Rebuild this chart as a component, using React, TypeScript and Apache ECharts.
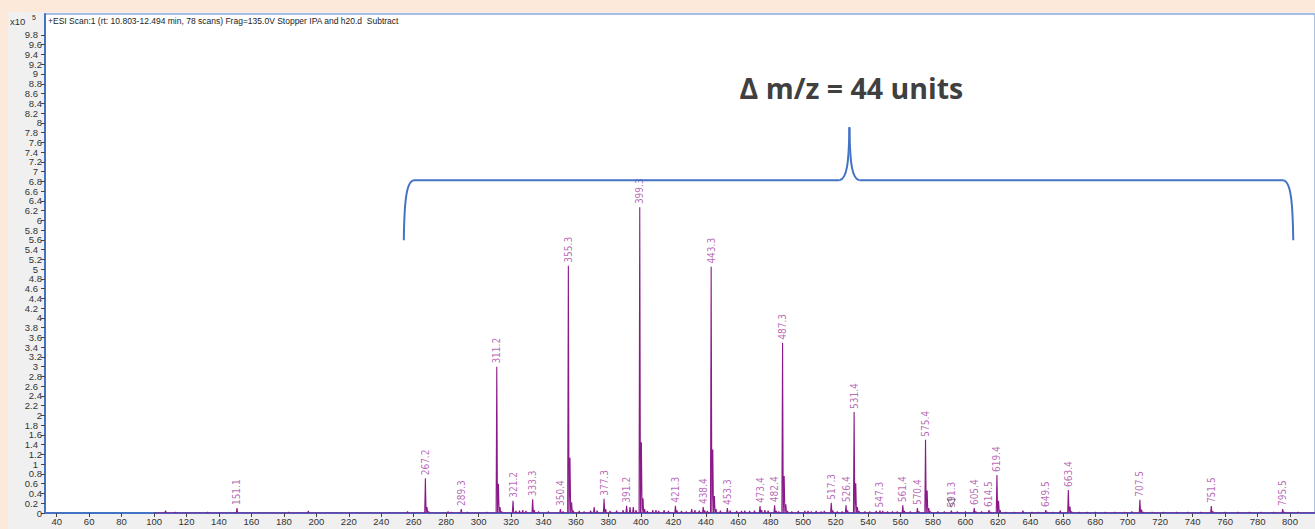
import React, { useEffect, useRef } from 'react';
import * as echarts from 'echarts';

// ---- axis ticks ----
const xTicks = [40, 60, 80, 100, 120, 140, 160, 180, 200, 220, 240, 260, 280, 300, 320, 340, 360, 380, 400, 420, 440, 460, 480, 500, 520, 540, 560, 580, 600, 620, 640, 660, 680, 700, 720, 740, 760, 780, 800];
const yTicks = [0, 0.2, 0.4, 0.6, 0.8, 1, 1.2, 1.4, 1.6, 1.8, 2, 2.2, 2.4, 2.6, 2.8, 3, 3.2, 3.4, 3.6, 3.8, 4, 4.2, 4.4, 4.6, 4.8, 5, 5.2, 5.4, 5.6, 5.8, 6, 6.2, 6.4, 6.6, 6.8, 7, 7.2, 7.4, 7.6, 7.8, 8, 8.2, 8.4, 8.6, 8.8, 9, 9.2, 9.4, 9.6, 9.8];

// ---- labeled peaks (m/z, counts x10^5) ----
const labeledMz = [151.1, 267.2, 289.3, 311.2, 321.2, 333.3, 350.4, 355.3, 377.3, 391.2, 399.3, 421.3, 438.4, 443.3, 453.3, 473.4, 482.4, 487.3, 517.3, 526.4, 531.4, 547.3, 561.4, 570.4, 575.4, 591.3, 605.4, 614.5, 619.4, 649.5, 663.4, 707.5, 751.5, 795.5];
const labeledIntensity = [0.1, 0.71, 0.08, 3.0, 0.25, 0.28, 0.08, 5.07, 0.29, 0.15, 6.27, 0.15, 0.12, 5.05, 0.1, 0.14, 0.16, 3.49, 0.21, 0.16, 2.07, 0.05, 0.16, 0.1, 1.5, 0.05, 0.1, 0.06, 0.78, 0.06, 0.47, 0.27, 0.14, 0.08];

// ---- unlabeled minor peaks / isotopes ----
const minorMz = [107.1, 113.1, 133, 183, 195.1, 256.2, 268.2, 269.2, 281.2, 283, 293, 305, 312.2, 313.2, 314.2, 323, 325.2, 327.2, 329.2, 334.3, 337, 343, 352, 356.3, 357.3, 358.3, 362, 365, 369, 371.2, 373, 378.3, 381, 385, 389, 393.3, 395.3, 397, 400.3, 401.3, 402.3, 404, 407.3, 409.3, 411, 414.3, 417, 422.3, 425, 428, 431.3, 433.3, 436, 439.4, 441, 444.3, 445.3, 446.3, 449, 455, 459, 462, 464, 467, 470, 474.4, 476.4, 478.4, 483.4, 485, 488.3, 489.3, 490.3, 493, 497, 501, 503, 505, 508, 511, 513, 518.3, 521, 524, 527.4, 532.4, 533.4, 534.4, 538, 541, 545, 549, 552, 555, 558, 562.4, 566, 571.4, 576.4, 577.4, 578.4, 583, 587, 595, 600, 606.4, 610, 615.5, 620.4, 621.4, 625, 630, 635.4, 641, 645, 650.5, 654, 658.4, 664.4, 665.4, 670, 675, 680, 686, 692, 698, 702.5, 708.5, 709.5, 715, 722, 730, 737, 745, 752.5, 760, 768, 775, 782, 790, 796.5, 805];
const minorIntensity = [0.05, 0.02, 0.02, 0.02, 0.04, 0.03, 0.12, 0.03, 0.03, 0.02, 0.02, 0.02, 0.6, 0.12, 0.03, 0.04, 0.05, 0.06, 0.04, 0.06, 0.03, 0.03, 0.03, 1.13, 0.22, 0.05, 0.04, 0.03, 0.05, 0.12, 0.05, 0.08, 0.04, 0.05, 0.06, 0.12, 0.12, 0.06, 1.45, 0.3, 0.08, 0.04, 0.06, 0.06, 0.04, 0.06, 0.04, 0.05, 0.04, 0.03, 0.08, 0.06, 0.05, 0.05, 0.04, 1.3, 0.35, 0.08, 0.05, 0.05, 0.04, 0.04, 0.05, 0.04, 0.05, 0.06, 0.06, 0.05, 0.04, 0.03, 0.76, 0.18, 0.04, 0.03, 0.04, 0.04, 0.04, 0.03, 0.04, 0.03, 0.04, 0.05, 0.03, 0.03, 0.05, 0.61, 0.12, 0.04, 0.03, 0.03, 0.04, 0.04, 0.03, 0.03, 0.03, 0.04, 0.03, 0.03, 0.46, 0.1, 0.03, 0.03, 0.03, 0.03, 0.03, 0.03, 0.03, 0.02, 0.25, 0.06, 0.02, 0.02, 0.05, 0.02, 0.02, 0.02, 0.02, 0.05, 0.13, 0.03, 0.02, 0.02, 0.02, 0.02, 0.02, 0.02, 0.03, 0.07, 0.02, 0.02, 0.02, 0.02, 0.02, 0.02, 0.03, 0.02, 0.02, 0.02, 0.02, 0.02, 0.02, 0.02];

// baseline extent of the acquired spectrum
const scanRange = [100, 815.4];
// marker (open triangle) near 591.3
const markerMz = [591.3];
const markerIntensity = [0.2];

const headerText = '+ESI Scan:1 (rt: 10.803-12.494 min, 78 scans) Frag=135.0V Stopper IPA and h20.d  Subtract';
const annotationText = 'Δ m/z = 44 units';
// brace annotation anchors in data coordinates
const braceMz = [253.9, 528.5, 802];
const braceLevels = [5.59, 6.82, 7.91];
const annotationLevel = 8.71;

const X_MIN = 32.8;
const X_MAX = 815.4;
const Y_MAX = 10.23;

const LINE_COLOR = '#8B1A89';
const LABEL_COLOR = '#A644A4';
const AXIS_BLUE = '#4472C4';

function buildProfile(): number[][] {
  const peaks: number[][] = [];
  labeledMz.forEach((m, i) => peaks.push([m, labeledIntensity[i]]));
  minorMz.forEach((m, i) => peaks.push([m, minorIntensity[i]]));
  peaks.sort((a, b) => a[0] - b[0]);
  const pts: number[][] = [[scanRange[0], 0]];
  const w = 0.42;
  peaks.forEach(([m, h]) => {
    pts.push([m - w, 0]);
    pts.push([m, h]);
    pts.push([m + w, 0]);
  });
  pts.push([scanRange[1], 0]);
  return pts;
}

export default function App() {
  const ref = useRef<HTMLDivElement>(null);

  useEffect(() => {
    document.body.style.margin = '0';
    const chart = echarts.init(ref.current!, null, { renderer: 'svg' });
    const axisFont = { fontFamily: '"Liberation Sans", Arial, sans-serif', fontSize: 9.5, color: '#333' };
    // split y tick labels over two overlaid axes so that no label is auto-hidden
    const yEven = yTicks.filter((_, i) => i % 2 === 0);
    const yOdd = yTicks.filter((_, i) => i % 2 === 1);
    const yFmt = (v: number) => String(+v.toFixed(1));

    chart.setOption({
      animation: false,
      grid: {
        left: 45,
        top: 14,
        right: 0,
        bottom: 16,
        show: true,
        backgroundColor: '#ffffff',
        borderColor: '#8FAADC',
        borderWidth: 1.5,
      },
      xAxis: {
        type: 'value',
        min: X_MIN,
        max: X_MAX,
        splitLine: { show: false },
        axisLine: { show: true, lineStyle: { color: AXIS_BLUE, width: 2 } },
        axisTick: { show: true, length: 4, lineStyle: { color: '#444', width: 1 }, customValues: xTicks },
        axisLabel: { ...axisFont, margin: 3, showMinLabel: true, showMaxLabel: true, customValues: xTicks, formatter: (v: number) => String(v) },
      },
      yAxis: [
        {
          type: 'value',
          min: 0,
          max: Y_MAX,
          position: 'left',
          splitLine: { show: false },
          axisLine: { show: true, lineStyle: { color: AXIS_BLUE, width: 2 } },
          axisTick: { show: true, length: 4, lineStyle: { color: '#444', width: 1 }, customValues: yTicks },
          axisLabel: { ...axisFont, margin: 3, showMinLabel: true, showMaxLabel: true, customValues: yEven, formatter: yFmt },
        },
        {
          type: 'value',
          min: 0,
          max: Y_MAX,
          position: 'left',
          offset: 0,
          splitLine: { show: false },
          axisLine: { show: false },
          axisTick: { show: false },
          axisLabel: { ...axisFont, margin: 7, showMinLabel: true, showMaxLabel: true, customValues: yOdd, formatter: yFmt },
        },
      ],
      series: [
        {
          type: 'line',
          data: buildProfile(),
          symbol: 'none',
          showSymbol: false,
          lineStyle: { color: LINE_COLOR, width: 1.1 },
          itemStyle: { color: LINE_COLOR },
          z: 3,
        },
        {
          type: 'scatter',
          data: labeledMz.map((m, i) => [m, labeledIntensity[i]]),
          symbolSize: 0.1,
          itemStyle: { color: 'transparent' },
          label: {
            show: true,
            position: 'top',
            rotate: 90,
            align: 'left',
            verticalAlign: 'middle',
            distance: 3,
            fontFamily: '"Liberation Sans Narrow", "DejaVu Sans Condensed", "Arial Narrow", sans-serif',
            fontSize: 10,
            color: LABEL_COLOR,
            formatter: (p: any) => p.value[0].toFixed(1),
          },
          z: 4,
        },
        {
          type: 'scatter',
          data: markerMz.map((m, i) => [m, markerIntensity[i]]),
          symbol: 'triangle',
          symbolRotate: 180,
          symbolSize: 8,
          itemStyle: { color: 'rgba(255,255,255,0)', borderColor: '#555', borderWidth: 1 },
          z: 5,
        },
      ],
    });

    const p = (x: number, y: number) => chart.convertToPixel({ gridIndex: 0 }, [x, y]) as number[];
    const L = p(braceMz[0], braceLevels[0]);
    const M = p(braceMz[1], braceLevels[2]);
    const R = p(braceMz[2], braceLevels[0]);
    const yh = p(braceMz[0], braceLevels[1])[1];
    const yb = L[1];
    const yt = M[1];
    const A = p(braceMz[1], annotationLevel);
    const braceStyle = { stroke: AXIS_BLUE, lineWidth: 2, fill: null as any };

    chart.setOption({
      graphic: [
        { type: 'text', left: 10, top: 16, style: { text: 'x10', fontFamily: '"Liberation Sans", Arial, sans-serif', fontSize: 9.5, fill: '#333' } },
        { type: 'text', left: 32, top: 14, style: { text: '5', fontFamily: '"Liberation Sans", Arial, sans-serif', fontSize: 7, fill: '#333' } },
        { type: 'text', left: 48, top: 16, z: 10, style: { text: headerText, fontFamily: '"Liberation Sans", Arial, sans-serif', fontSize: 8.5, fill: '#222' } },
        {
          type: 'text', x: A[0] + 2, y: A[1], z: 10,
          style: { text: annotationText, fontFamily: '"Open Sans", "DejaVu Sans", sans-serif', fontWeight: 'bold', fontSize: 28.5, fill: '#404040', align: 'center', verticalAlign: 'middle' },
        },
        { type: 'bezierCurve', z: 10, shape: { x1: L[0], y1: yb, cpx1: L[0] + 0.5, cpy1: yh + 25, cpx2: L[0] + 2, cpy2: yh + 1, x2: L[0] + 10, y2: yh }, style: braceStyle },
        { type: 'line', z: 10, shape: { x1: L[0] + 10, y1: yh, x2: M[0] - 10, y2: yh }, style: braceStyle },
        { type: 'bezierCurve', z: 10, shape: { x1: M[0] - 10, y1: yh, cpx1: M[0] - 3, cpy1: yh - 1, cpx2: M[0] - 0.5, cpy2: yh - 15, x2: M[0], y2: yt }, style: braceStyle },
        { type: 'bezierCurve', z: 10, shape: { x1: M[0], y1: yt, cpx1: M[0] + 0.5, cpy1: yh - 15, cpx2: M[0] + 3, cpy2: yh - 1, x2: M[0] + 10, y2: yh }, style: braceStyle },
        { type: 'line', z: 10, shape: { x1: M[0] + 10, y1: yh, x2: R[0] - 10, y2: yh }, style: braceStyle },
        { type: 'bezierCurve', z: 10, shape: { x1: R[0] - 10, y1: yh, cpx1: R[0] - 2, cpy1: yh + 1, cpx2: R[0] - 0.5, cpy2: yh + 25, x2: R[0], y2: yb }, style: braceStyle },
      ],
    });

    return () => chart.dispose();
  }, []);

  return (
    <div style={{ position: 'fixed', left: 0, top: 0, width: 1315, height: 529, background: '#FCE9DA', overflow: 'hidden' }}>
      <div style={{ position: 'absolute', left: 8, top: 12, right: 0, bottom: 0, background: '#F0F0F0' }} />
      <div ref={ref} style={{ position: 'absolute', left: 0, top: 0, width: 1315, height: 529 }} />
    </div>
  );
}
